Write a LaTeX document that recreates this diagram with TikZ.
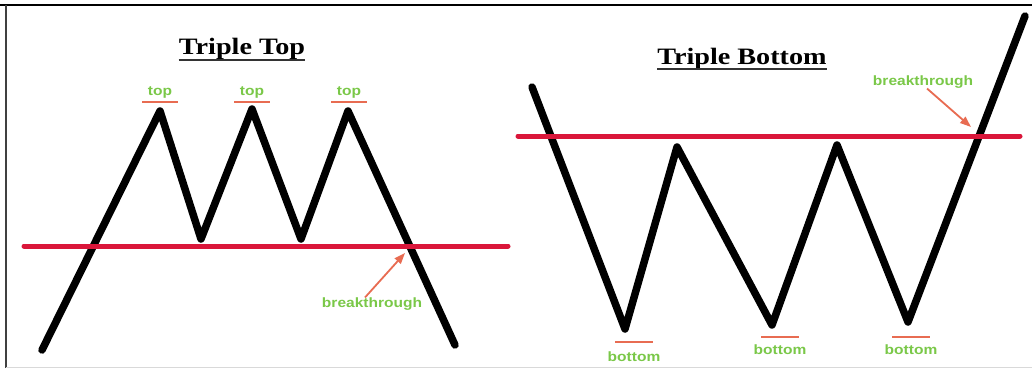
\documentclass[tikz,border=0pt]{standalone}
\usepackage{fontspec}
\setmainfont{Liberation Serif}
\newfontfamily\labfont{Liberation Sans}
\usetikzlibrary{arrows.meta}
\definecolor{redline}{RGB}{218,22,58}
\definecolor{barc}{RGB}{232,108,82}
\definecolor{labg}{RGB}{122,200,72}
\tikzset{
  zig/.style={line width=7.5pt, line cap=round, line join=round, black},
  level/.style={line width=5pt, line cap=round, redline},
  bar/.style={line width=2.5pt, barc},
  lbl/.style={font=\labfont\bfseries\fontsize{13.5}{13.5}\selectfont, text=labg, inner sep=0pt, xscale=1.15},
  ttl/.style={font=\bfseries\fontsize{23.5}{23.5}\selectfont, inner sep=0pt, anchor=base, xscale=1.2},
  uline/.style={line width=1.2pt, black!80},
  pointer/.style={-{Triangle[length=11pt,width=8pt]}, line width=1.8pt, barc}
}
\begin{document}
\begin{tikzpicture}[x=1pt,y=-1pt]
\fill[white] (0,0) rectangle (1032,369);
\useasboundingbox (0,0) rectangle (1032,369);
% frame
\draw[line width=1.8pt] (0,5) -- (1032,5);
\draw[line width=1.5pt, black!75] (6,5) -- (6,368);
\draw[line width=1pt, black!15] (6,367.5) -- (1032,367.5);

% ---------- Triple Top ----------
\coordinate (a0) at (42,350);
\coordinate (a1) at (160,111);
\coordinate (a2) at (201,239);
\coordinate (a3) at (252,109);
\coordinate (a4) at (301,239);
\coordinate (a5) at (348,111);
\coordinate (a6) at (455,345);
\draw[zig] (a0) -- (a1) -- (a2) -- (a3) -- (a4) -- (a5) -- (a6);
\coordinate (ll) at (24,246);
\coordinate (lr) at (508,246);
\draw[level] (ll) -- (lr);
\node[ttl] (t1) at (242,55) {Triple Top};
\draw[uline] (t1.south west |- 0,60) -- (t1.south east |- 0,60);
\foreach \i/\x in {1/160,2/252,3/349}{
  \coordinate (tb\i l) at (\x-18,102);
  \coordinate (tb\i r) at (\x+18,102);
  \draw[bar] (tb\i l) -- (tb\i r);
  \node[lbl] (top\i) at (\x,92) {top};
}
\node[lbl] (bk1) at (372,304) {breakthrough};
\coordinate (bk1tip) at (405,253);
\draw[pointer] (bk1.north -| 365,0) -- (bk1tip);

% ---------- Triple Bottom ----------
\coordinate (b0) at (532,87);
\coordinate (b1) at (625,329);
\coordinate (b2) at (677,147);
\coordinate (b3) at (772,325);
\coordinate (b4) at (837,145);
\coordinate (b5) at (908,322);
\coordinate (b6) at (1025,16);
\draw[zig] (b0) -- (b1) -- (b2) -- (b3) -- (b4) -- (b5) -- (b6);
\coordinate (rl) at (518,136);
\coordinate (rr) at (1020,136);
\draw[level] (rl) -- (rr);
\node[ttl] (t2) at (742,64) {Triple Bottom};
\draw[uline] (t2.south west |- 0,69) -- (t2.south east |- 0,69);
\foreach \i/\x/\yb/\yt in {1/634/342/357,2/780/337/350,3/911/337/350}{
  \coordinate (bb\i l) at (\x-19,\yb);
  \coordinate (bb\i r) at (\x+19,\yb);
  \draw[bar] (bb\i l) -- (bb\i r);
  \node[lbl] (bot\i) at (\x,\yt) {bottom};
}
\node[lbl] (bk2) at (923,82) {breakthrough};
\coordinate (bk2tip) at (971,127);
\draw[pointer] (bk2.south -| 927,0) -- (bk2tip);
\end{tikzpicture}
\end{document}
